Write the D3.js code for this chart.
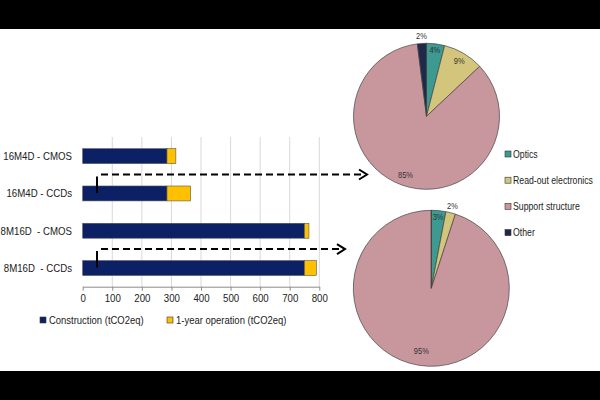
<!DOCTYPE html>
<html>
<head>
<meta charset="utf-8">
<script src="https://cdn.jsdelivr.net/npm/d3@7"></script>
<style>
  body { margin: 0; background: #fff; }
  svg { display: block; font-family: "Liberation Sans", Arial, sans-serif; }
</style>
</head>
<body>
<svg width="600" height="400"></svg>
<script>

// bar chart data (tCO2eq)
const categories = ["16M4D - CMOS", "16M4D - CCDs", "8M16D  - CMOS", "8M16D  - CCDs"];
const construction = [285, 285, 750, 750];
const operation = [30, 80, 15, 40];
const xTicks = [0, 100, 200, 300, 400, 500, 600, 700, 800];
const barSeries = ["Construction (tCO2eq)", "1-year operation (tCO2eq)"];

// pie data (% share of construction)
const parts = ["Optics", "Read-out electronics", "Support structure", "Other"];
const share16M4D = [4, 9, 85, 2];
const share8M16D = [3, 2, 95, 0];

const svg = d3.select("svg");

// squeeze text a bit so Liberation Sans looks like the narrower original face
function condense(sel, k) {
  sel.each(function() {
    const w = this.getComputedTextLength();
    d3.select(this).attr("textLength", w * k).attr("lengthAdjust", "spacingAndGlyphs");
  })
}

// letterbox bands of the original picture
svg.append("rect").attr("x", 0).attr("y", 0).attr("width", 600).attr("height", 29).attr("fill", "#000");
svg.append("rect").attr("x", 0).attr("y", 371).attr("width", 600).attr("height", 29).attr("fill", "#000");

// *** BAR CHART ***

const x = d3.scaleLinear().domain([0, 800]).range([82.7, 319.3]);
const y = d3.scaleBand().domain(categories).range([137.5, 286.7]).paddingInner(0.6).paddingOuter(0.3);

const barColors = ["#0c2165", "#ffc000"];

svg.selectAll(".grid").data(xTicks.slice(1))
  .enter().append("line")
    .attr("class", "grid")
    .attr("x1", d => x(d)).attr("x2", d => x(d))
    .attr("y1", 137).attr("y2", 286.7)
    .style("stroke", "#d9d9d9")
    .style("stroke-width", 1)

const xAxis = svg.append("g")
  .attr("transform", "translate(0,286.7)")
  .call(d3.axisBottom(x).tickValues(xTicks).tickSize(4).tickSizeOuter(0).tickPadding(4))
xAxis.select(".domain").attr("stroke", "#8c8c8c")
xAxis.selectAll(".tick line").attr("stroke", "#8c8c8c")
xAxis.selectAll("text")
  .style("font-size", "11px").style("fill", "#222")
  .style("font-family", "\"Liberation Sans\", Arial, sans-serif")
  .call(condense, 0.88)

const rows = categories.map((c, i) => ({cat: c, con: construction[i], op: operation[i]}));

svg.selectAll(".con").data(rows)
  .enter().append("rect")
    .attr("class", "con")
    .attr("x", x(0))
    .attr("y", d => y(d.cat))
    .attr("width", d => x(d.con) - x(0))
    .attr("height", y.bandwidth())
    .style("fill", barColors[0])
    .style("stroke", "#555")
    .style("stroke-width", 0.6)

svg.selectAll(".op").data(rows)
  .enter().append("rect")
    .attr("class", "op")
    .attr("x", d => x(d.con))
    .attr("y", d => y(d.cat))
    .attr("width", d => x(d.con + d.op) - x(d.con))
    .attr("height", y.bandwidth())
    .style("fill", barColors[1])
    .style("stroke", "#555")
    .style("stroke-width", 0.6)

svg.selectAll(".cat").data(categories)
  .enter().append("text")
    .attr("class", "cat")
    .attr("x", 72)
    .attr("y", d => y(d) + y.bandwidth() / 2)
    .attr("dy", "0.35em")
    .attr("text-anchor", "end")
    .style("font-size", "11.5px")
    .style("fill", "#222")
    .style("white-space", "pre")
    .text(d => d)
    .call(condense, 0.84)

// bar legend
const barLegendX = [40, 167];
barSeries.forEach((s, i) => {
  svg.append("rect")
    .attr("x", barLegendX[i]).attr("y", 317)
    .attr("width", 6).attr("height", 6)
    .style("fill", barColors[i]).style("stroke", "#333").style("stroke-width", 0.6)
  svg.append("text")
    .attr("x", barLegendX[i] + 9).attr("y", 320).attr("dy", "0.35em")
    .style("font-size", "11px").style("fill", "#222")
    .text(s)
    .call(condense, 0.86)
})

// *** PIE CHARTS ***

const pieColors = d3.scaleOrdinal().domain(parts).range(["#3c9a90", "#d3c67c", "#c8979d", "#1f2a4a"]);
const pie = d3.pie().sort(null).value(d => d.v);

function drawPie(values, cx, cy, r, labelR) {
  const g = svg.append("g").attr("transform", `translate(${cx},${cy})`);
  const data = pie(parts.map((p, i) => ({p, v: values[i]})));
  const arc = d3.arc().innerRadius(0).outerRadius(r);

  g.selectAll("path").data(data)
    .enter().append("path")
      .attr("d", arc)
      .style("fill", d => pieColors(d.data.p))
      .style("stroke", "#444")
      .style("stroke-width", 0.7)

  g.selectAll("text").data(data.filter(d => d.data.v > 0))
    .enter().append("text")
      .attr("transform", (d, i) => {
        const la = d3.arc().innerRadius(r * labelR[i]).outerRadius(r * labelR[i]);
        return `translate(${la.centroid(d)})`;
      })
      .attr("text-anchor", "middle")
      .attr("dy", "0.35em")
      .style("font-size", "8.5px")
      .style("fill", "#333")
      .text(d => d.data.v + "%")
      .call(condense, 0.88)
}

drawPie(share16M4D, 426.5, 116.3, 73, [0.91, 0.88, 0.85, 1.1]);
drawPie(share8M16D, 431.3, 288.3, 78, [0.92, 1.09, 0.82]);

// pie legend
svg.selectAll(".pleg").data(parts)
  .enter().append("rect")
    .attr("class", "pleg")
    .attr("x", 505)
    .attr("y", (d, i) => 151 + i * 26.2)
    .attr("width", 6).attr("height", 6)
    .style("fill", d => pieColors(d))
    .style("stroke", "#333").style("stroke-width", 0.6)

svg.selectAll(".plegt").data(parts)
  .enter().append("text")
    .attr("class", "plegt")
    .attr("x", 513)
    .attr("y", (d, i) => 154 + i * 26.2)
    .attr("dy", "0.35em")
    .style("font-size", "10.5px")
    .style("fill", "#222")
    .text(d => d)
    .call(condense, 0.83)

// *** ARROWS from CCD bars to pies ***

const arrows = [
  {cat: categories[1], x2: 367},
  {cat: categories[3], x2: 345}
];

arrows.forEach(a => {
  const yb = y(a.cat);
  const ya = yb - 11.5;
  svg.append("line")
    .attr("x1", 97).attr("x2", 97)
    .attr("y1", ya + 2).attr("y2", yb + 7)
    .style("stroke", "#000").style("stroke-width", 2)
  svg.append("line")
    .attr("x1", 101).attr("x2", a.x2 - 2)
    .attr("y1", ya).attr("y2", ya)
    .style("stroke", "#000").style("stroke-width", 2)
    .style("stroke-dasharray", "7,4")
  svg.append("path")
    .attr("d", `M${a.x2 - 8},${ya - 5} L${a.x2},${ya} L${a.x2 - 8},${ya + 5}`)
    .style("fill", "none").style("stroke", "#000").style("stroke-width", 2)
})

</script>
</body>
</html>
